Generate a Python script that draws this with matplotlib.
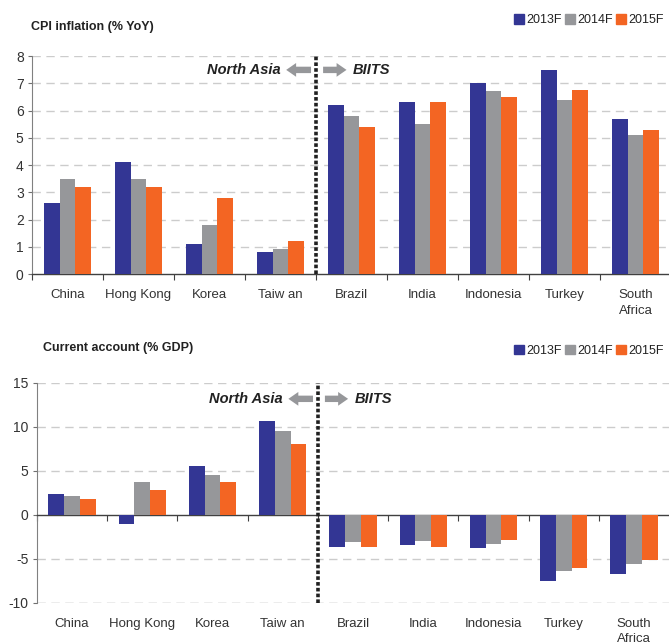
import numpy as np
import matplotlib
matplotlib.use("Agg")
import matplotlib.pyplot as plt
from matplotlib.patches import Patch

plt.rcParams['font.family'] = ['Liberation Sans', 'DejaVu Sans']
plt.rcParams['axes.unicode_minus'] = False

countries = ["China", "Hong Kong", "Korea", "Taiw an", "Brazil", "India",
             "Indonesia", "Turkey", "South\nAfrica"]
years = ["2013F", "2014F", "2015F"]

# CPI inflation, % YoY
cpi_2013 = [2.6, 4.1, 1.1, 0.8, 6.2, 6.3, 7.0, 7.5, 5.7]
cpi_2014 = [3.5, 3.5, 1.8, 0.9, 5.8, 5.5, 6.7, 6.4, 5.1]
cpi_2015 = [3.2, 3.2, 2.8, 1.2, 5.4, 6.3, 6.5, 6.75, 5.3]

# Current account, % GDP
ca_2013 = [2.4, -1.0, 5.6, 10.7, -3.6, -3.4, -3.8, -7.5, -6.7]
ca_2014 = [2.2, 3.8, 4.5, 9.5, -3.1, -3.0, -3.3, -6.4, -5.6]
ca_2015 = [1.8, 2.8, 3.7, 8.1, -3.6, -3.6, -2.8, -6.0, -5.1]

colors = ["#333694", "#96979a", "#f36523"]
W, H = 669, 644
fig = plt.figure(figsize=(W / 100, H / 100), dpi=100)

x = np.arange(len(countries))
bw = 0.225
arrow_style = 'simple,head_length=0.65,head_width=0.9,tail_width=0.42'


def draw_panel(ax, series, ylim, yticks, arrow_y):
    for k, vals in enumerate(series):
        ax.bar(x + (k - 1) * bw, vals, bw, color=colors[k], zorder=3)
    ax.set_xlim(-0.5, len(countries) - 0.5)
    ax.set_ylim(*ylim)
    ax.set_yticks(yticks)
    ax.tick_params(axis='y', length=3, width=0.8, color='#707070',
                   labelsize=10, labelcolor='#333333', pad=3)
    for t in yticks:
        if t != 0:
            ax.axhline(t, color='#cccccc', lw=1, ls=(0, (6, 4)), zorder=1)
    ax.set_xticks(x - 0.5, minor=True)
    ax.tick_params(axis='x', which='minor', length=4, width=0.8,
                   color='#404040', direction='out')
    for s in ['top', 'right']:
        ax.spines[s].set_visible(False)
    ax.spines['left'].set_color('#808080')
    ax.spines['bottom'].set_color('#404040')
    ax.spines['bottom'].set_linewidth(1)
    # divider between North Asia and BIITS
    ax.axvline(3.5, color='#202020', lw=2.6, ls=(0, (1, 0.6)), zorder=4,
               clip_on=False)
    ax.annotate('', xy=(3.08, arrow_y), xytext=(3.43, arrow_y),
                arrowprops=dict(arrowstyle=arrow_style, color='#96979a',
                                mutation_scale=11, lw=0, shrinkA=0, shrinkB=0))
    ax.annotate('', xy=(3.93, arrow_y), xytext=(3.6, arrow_y),
                arrowprops=dict(arrowstyle=arrow_style, color='#96979a',
                                mutation_scale=11, lw=0, shrinkA=0, shrinkB=0))
    ax.text(3.0, arrow_y, "North Asia", ha='right', va='center', fontsize=10.5,
            fontweight='bold', fontstyle='italic', color='#222222')
    ax.text(4.02, arrow_y, "BIITS", ha='left', va='center', fontsize=10.5,
            fontweight='bold', fontstyle='italic', color='#222222')


def add_legend(x0, yc):
    handles = [Patch(color=c, label=l) for c, l in zip(colors, years)]
    fig.legend(handles=handles, ncol=3, loc='center left',
               bbox_to_anchor=(x0 / W, 1 - yc / H), frameon=False,
               fontsize=9, handlelength=0.8, handleheight=0.8,
               handletextpad=0.15, columnspacing=0.3, borderpad=0,
               borderaxespad=0, labelcolor='#222222')


# upper panel: CPI inflation
ax1 = fig.add_axes([32 / W, 1 - 274 / H, 639 / W, 218 / H])
draw_panel(ax1, [cpi_2013, cpi_2014, cpi_2015], (0, 8), range(0, 9), 7.49)
ax1.set_xticks(x)
ax1.set_xticklabels(countries, fontsize=9.5, color='#333333', linespacing=1.4)
ax1.tick_params(axis='x', which='major', length=0, pad=11)
fig.text(31 / W, 1 - 27 / H, "CPI inflation (% YoY)", fontsize=9,
         fontweight='bold', color='#222222', va='center')
add_legend(514, 20)

# lower panel: current account
ax2 = fig.add_axes([37 / W, 1 - 603 / H, 632 / W, 220 / H])
draw_panel(ax2, [ca_2013, ca_2014, ca_2015], (-10, 15),
           [-10, -5, 0, 5, 10, 15], 13.2)
ax2.spines['bottom'].set_position(('data', 0))
ax2.set_xticks(x)
ax2.tick_params(axis='x', which='major', length=0, labelbottom=False)
for i, name in enumerate(countries):
    ax2.annotate(name, xy=(i, 0), xycoords=('data', 'axes fraction'),
                 xytext=(0, -10.5), textcoords='offset points', ha='center',
                 va='top', fontsize=9.5, color='#333333', linespacing=1.4,
                 annotation_clip=False)
ax2.axhline(-10, color='#cccccc', lw=1, ls=(0, (6, 4)), zorder=1)
fig.text(43 / W, 1 - 348 / H, "Current account (% GDP)", fontsize=9,
         fontweight='bold', color='#222222', va='center')
add_legend(514, 351)

fig.savefig("out.png", dpi=100)
